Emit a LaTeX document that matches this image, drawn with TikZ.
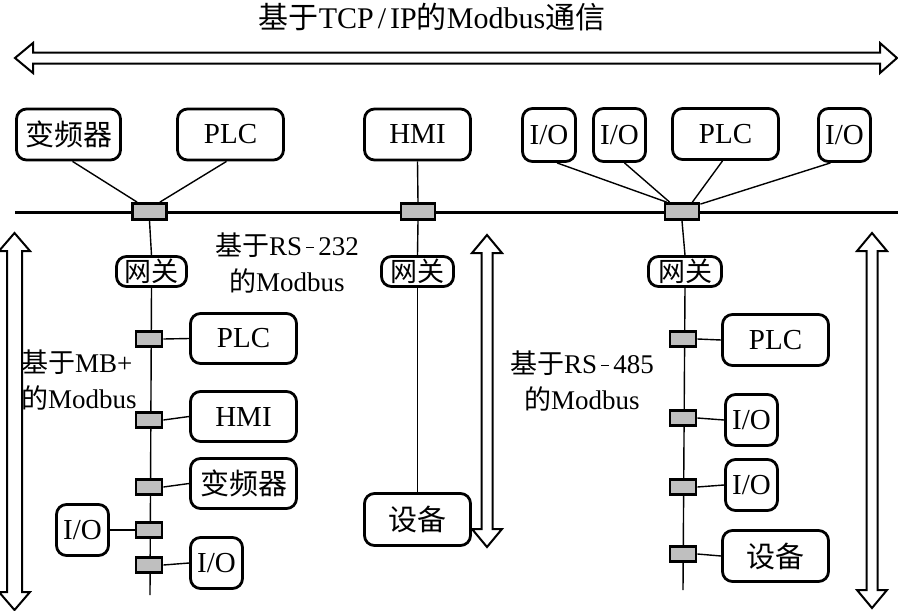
\documentclass[tikz,border=0pt]{standalone}
\usepackage{fontspec}
\setmainfont{Liberation Serif}
\newfontfamily\cjk{Noto Sans CJK SC}
\usetikzlibrary{backgrounds}
\tikzset{
  dev/.style={draw, line width=2.8pt, rounded corners=10pt, inner sep=0pt,
    minimum height=51pt, font=\fontsize{29}{34}\selectfont},
  tap/.style={draw, line width=2.8pt, fill=gray!50, inner sep=0pt,
    minimum width=26pt, minimum height=15pt},
  taptop/.style={tap, minimum width=34pt, minimum height=16pt},
  gw/.style={draw, line width=2.8pt, rounded corners=10pt, inner sep=0pt,
    minimum height=30pt, font=\fontsize{27}{30}\selectfont},
  thin/.style={line width=1.4pt},
  bus/.style={line width=3pt},
  lbl/.style={font=\fontsize{27}{36}\selectfont, inner sep=0pt},
  hollow/.style={line width=2pt, fill=white, line join=miter}
}
\newcommand\vdarrow[5]{%
  \draw[hollow] (#1,#4) -- ({#1+#3},{#4+18}) -- ({#1+#2},{#4+18}) --
    ({#1+#2},{#5-18}) -- ({#1+#3},{#5-18}) -- (#1,#5) -- ({#1-#3},{#5-18}) --
    ({#1-#2},{#5-18}) -- ({#1-#2},{#4+18}) -- ({#1-#3},{#4+18}) -- cycle;}
\newcommand\dsh{\kern4pt\raisebox{0.27em}{\rule{0.3em}{0.05em}}\kern4pt}
\begin{document}
\begin{tikzpicture}[x=1pt,y=-1pt]
\useasboundingbox (0,0) rectangle (898,611);

% title
\node[font=\fontsize{30}{34}\selectfont, inner sep=0pt] (title) at (432,17)
  {{\cjk 基于}TCP\kern4pt/\kern4pt IP{\cjk 的}Modbus{\cjk 通信}};

% top double arrow
\draw[hollow] (15,58) -- (33,43) -- (33,52.5) -- (880,52.5) -- (880,43) --
  (897,58) -- (880,73) -- (880,63.5) -- (33,63.5) -- (33,73) -- cycle;

% vertical double arrows
\vdarrow{14.5}{7.5}{15.5}{233}{610}
\vdarrow{487}{5.5}{15}{235}{547}
\vdarrow{872}{5.5}{15}{233}{608}

% top devices
\node[dev, minimum width=104pt] (fA) at (68.5,134.5) {\cjk 变频器};
\node[dev, minimum width=106pt] (pA) at (230.5,134.5) {PLC};
\node[dev, minimum width=106pt] (hB) at (417.5,134.5) {HMI};
\node[dev, minimum width=53pt, minimum height=53pt] (io1) at (549,135) {I/O};
\node[dev, minimum width=52pt, minimum height=53pt] (io2) at (619.5,135) {I/O};
\node[dev, minimum width=106pt] (pC) at (725.5,134) {PLC};
\node[dev, minimum width=52pt, minimum height=53pt] (io4) at (844.5,135) {I/O};

% bus
\coordinate (busL) at (15,212);
\coordinate (busR) at (898,212);

% top taps
\node[taptop] (cA) at (149.5,211.5) {};
\node[taptop] (cB) at (418,211.5) {};
\node[taptop] (cC) at (682,211.5) {};

% gateways
\node[gw, minimum width=70pt] (gA) at (151.5,271.5) {\cjk 网关};
\node[gw, minimum width=72pt] (gB) at (417.5,271.5) {\cjk 网关};
\node[gw, minimum width=73pt] (gC) at (685,271.5) {\cjk 网关};

% left column
\node[tap] (l1) at (149,339) {};
\node[tap] (l2) at (149,420) {};
\node[tap] (l3) at (149,487) {};
\node[tap] (l4) at (149,530) {};
\node[tap] (l5) at (149,565) {};
\node[dev, minimum width=106pt, minimum height=50pt] (pL) at (243.5,338.5) {PLC};
\node[dev, minimum width=106pt, minimum height=50pt] (hL) at (243.5,416.5) {HMI};
\node[dev, minimum width=106pt, minimum height=50pt] (fL) at (243.5,483.5) {\cjk 变频器};
\node[dev, minimum width=52pt] (ioL1) at (82.5,530) {I/O};
\node[dev, minimum width=52pt] (ioL2) at (216.5,563) {I/O};
\coordinate (endA) at (150,595);

% middle column
\node[dev, minimum width=106pt, minimum height=52pt] (dB) at (417.5,519.5) {\cjk 设备};

% right column
\node[tap] (r1) at (683,339) {};
\node[tap] (r2) at (683,418) {};
\node[tap] (r3) at (683,487) {};
\node[tap] (r4) at (683,554) {};
\node[dev, minimum width=106pt] (pR) at (775.5,340) {PLC};
\node[dev, minimum width=52pt] (ioR1) at (751.5,420) {I/O};
\node[dev, minimum width=52pt] (ioR2) at (751.5,485) {I/O};
\node[dev, minimum width=106pt] (dR) at (775.5,556) {\cjk 设备};
\coordinate (endC) at (683,590);

% labels
\node[lbl, align=center] (t232) at (287,263) {{\cjk 基于}RS\dsh 232\\{\cjk 的}Modbus};
\node[lbl, align=left, anchor=west] (tmb) at (21,380) {{\cjk 基于}MB+\\{\cjk 的}Modbus};
\node[lbl, align=center] (t485) at (582,381) {{\cjk 基于}RS\dsh 485\\{\cjk 的}Modbus};

\begin{pgfonlayer}{background}
  \draw[bus] (busL) -- (busR);
  \draw[thin] ([xshift=4pt]fA.south) -- ([xshift=6pt]cA.north west);
  \draw[thin] ([xshift=-4pt]pA.south) -- ([xshift=-8pt]cA.north east);
  \draw[thin] (hB.south) -- (cB.north);
  \draw[thin] ([xshift=8pt]io1.south) -- ([xshift=3pt]cC.north west);
  \draw[thin] ([xshift=5pt]io2.south) -- ([xshift=6pt]cC.north west);
  \draw[thin] ([xshift=-3pt]pC.south) -- ([xshift=-8pt]cC.north east);
  \draw[thin] ([xshift=-14pt]io4.south) -- ([yshift=-2pt]cC.north east);
  % left
  \draw[thin] (cA.south) -- (gA.north);
  \draw[thin] (gA.south) -- (endA);
  \draw[thin] (l1.east) -- (pL.west);
  \draw[thin] (l2.east) -- (hL.west);
  \draw[thin] (l3.east) -- (fL.west);
  \draw[thin] (ioL1.east) -- (l4.west);
  \draw[thin] (l5.east) -- (ioL2.west);
  % middle
  \draw[thin] (cB.south) -- (gB.north);
  \draw[thin] (gB.south) -- (dB.north);
  % right
  \draw[thin] (cC.south) -- (gC.north);
  \draw[thin] (gC.south) -- (endC);
  \draw[thin] (r1.east) -- (pR.west);
  \draw[thin] (r2.east) -- (ioR1.west);
  \draw[thin] (r3.east) -- (ioR2.west);
  \draw[thin] (r4.east) -- (dR.west);
\end{pgfonlayer}
\end{tikzpicture}
\end{document}
